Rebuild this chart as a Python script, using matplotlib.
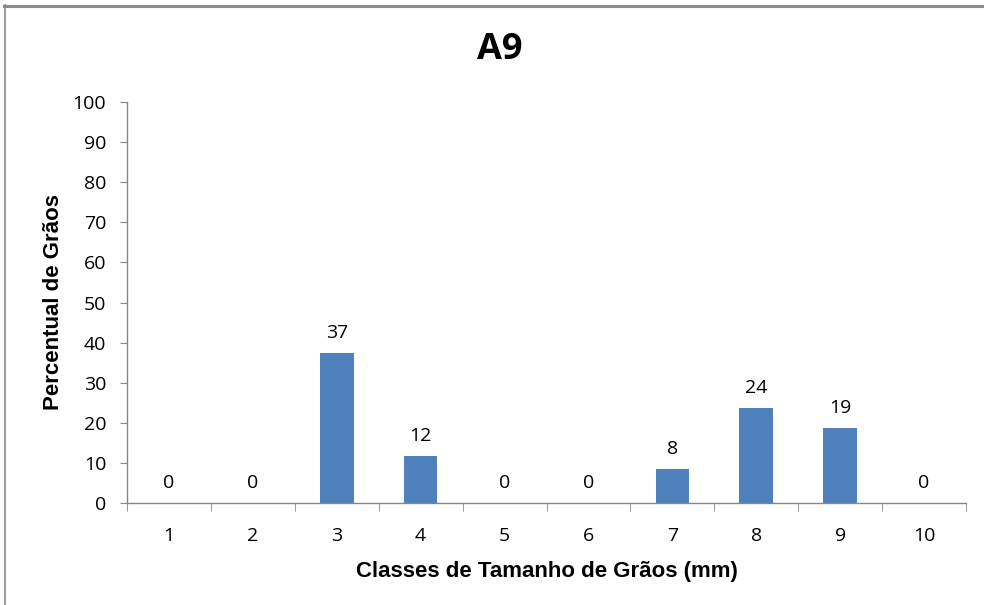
import matplotlib
matplotlib.use("Agg")
import matplotlib.pyplot as plt
from matplotlib.lines import Line2D

categories = ["1", "2", "3", "4", "5", "6", "7", "8", "9", "10"]
values = [0, 0, 37.4, 11.7, 0, 0, 8.4, 23.7, 18.6, 0]
labels = ["0", "0", "37", "12", "0", "0", "8", "24", "19", "0"]
yticks = [0, 10, 20, 30, 40, 50, 60, 70, 80, 90, 100]

W, H = 984, 605
fig = plt.figure(figsize=(W / 100, H / 100), dpi=100)
fig.patch.set_facecolor("white")

tick_font = ["Open Sans", "DejaVu Sans"]
bold_font = ["Liberation Sans", "DejaVu Sans"]
fs = 14

ax = fig.add_axes([127 / W, 1 - 503 / H, (966 - 127) / W, (503 - 102) / H])
x = list(range(len(categories)))
bar_color = "#4F81BD"
ax.bar(x, values, width=0.4, color=bar_color, zorder=2)

for xi, v, lab in zip(x, values, labels):
    ax.annotate(lab, (xi, v), xytext=(0, 8), textcoords="offset points",
                ha="center", va="bottom", fontsize=fs, family=tick_font, color="#000000")

ax.set_xlim(-0.5, len(categories) - 0.5)
ax.set_ylim(0, 100)
ax.set_yticks(yticks)
ax.set_yticklabels([str(t) for t in yticks], family=tick_font, fontsize=fs)
ax.set_xticks(x)
ax.set_xticklabels(categories, family=tick_font, fontsize=fs)
ax.tick_params(axis="x", length=0, pad=17.5)
ax.set_xticks([i + 0.5 for i in range(-1, len(categories))], minor=True)
ax.tick_params(axis="x", which="minor", length=6, color="#868686", direction="out")
ax.tick_params(axis="y", length=5, color="#868686", direction="out", pad=10)

for s in ["top", "right"]:
    ax.spines[s].set_visible(False)
for s in ["left", "bottom"]:
    ax.spines[s].set_color("#868686")
    ax.spines[s].set_linewidth(1.0)

ax.set_xlabel("Classes de Tamanho de Grãos (mm)", family=bold_font, fontweight="bold",
              fontsize=16, labelpad=11)
ax.set_ylabel("Percentual de Grãos", family=bold_font, fontweight="bold",
              fontsize=16, labelpad=6)

fig.text(500 / W, 1 - 50 / H, "A9", ha="center", va="center", fontsize=26,
         fontweight="bold", family=["Open Sans", "DejaVu Sans"])

# chart border
fig.add_artist(Line2D([4 / W, 1.0], [1 - 6 / H, 1 - 6 / H], transform=fig.transFigure,
                      color="#8a8a8a", linewidth=2.2))
fig.add_artist(Line2D([5 / W, 5 / W], [1 - 5 / H, 0.0], transform=fig.transFigure,
                      color="#8a8a8a", linewidth=1.2))

fig.savefig("out.png", dpi=100)
